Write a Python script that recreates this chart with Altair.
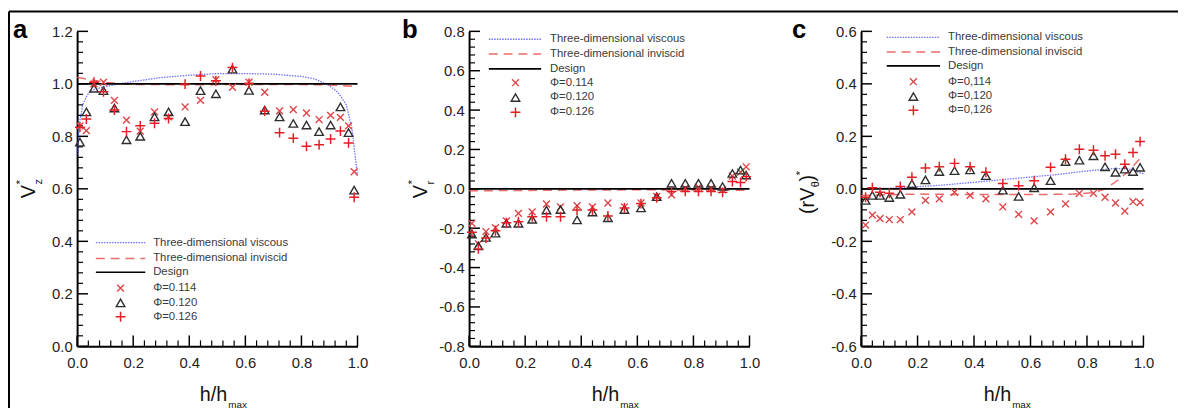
import altair as alt
import pandas as pd

# ---------------- data ----------------
H = [0.01, 0.033, 0.06, 0.094, 0.133, 0.176, 0.225, 0.276, 0.326, 0.385, 0.44, 0.495,
     0.554, 0.613, 0.669, 0.722, 0.771, 0.818, 0.863, 0.904, 0.939, 0.968, 0.988]
H_C = [0.016, 0.04, 0.067, 0.1, 0.139, 0.18, 0.228, 0.277, 0.331, 0.386, 0.442, 0.502,
       0.558, 0.613, 0.671, 0.724, 0.773, 0.823, 0.864, 0.901, 0.934, 0.963, 0.988]

# panel a : V*z
A_X = [0.84, 0.822, 1.0, 1.006, 0.937, 0.862, 0.82, 0.893, 0.874, 0.912, 0.937, 1.016,
       0.987, 1.006, 0.968, 0.897, 0.902, 0.889, 0.864, 0.88, 0.872, 0.84, 0.665]
A_TRI = [0.778, 0.893, 0.983, 0.974, 0.908, 0.787, 0.8, 0.874, 0.893, 0.856, 0.974, 0.962,
         1.056, 0.975, 0.9, 0.874, 0.849, 0.843, 0.818, 0.843, 0.912, 0.814, 0.595]
A_PLUS = [0.835, 0.866, 1.006, 0.97, 0.9, 0.818, 0.84, 0.85, 0.868, 0.999, 1.03, 1.012,
          1.062, 1.002, 0.896, 0.814, 0.793, 0.762, 0.768, 0.79, 0.82, 0.775, 0.568]
A_VISC_H = [0.0, 0.005, 0.01, 0.02, 0.035, 0.05, 0.1, 0.2, 0.3, 0.4, 0.5, 0.6, 0.7, 0.8,
            0.85, 0.9, 0.93, 0.96, 0.98, 0.99, 1.0]
A_VISC = [0.73, 0.8, 0.86, 0.92, 0.955, 0.975, 0.99, 1.009, 1.024, 1.033, 1.039, 1.039,
          1.037, 1.028, 1.018, 0.993, 0.968, 0.92, 0.83, 0.74, 0.65]
A_INV_H = [0.0, 0.05, 0.1, 0.15, 0.2, 0.4, 0.6, 0.8, 0.9, 1.0]
A_INV = [1.025, 1.015, 1.006, 1.001, 0.998, 0.996, 0.998, 0.997, 0.996, 0.99]
A_DES = [1.0, 1.0]

# panel b : V*r
B_X = [-0.175, -0.28, -0.217, -0.197, -0.163, -0.125, -0.117, -0.077, -0.092, -0.085, -0.092,
       -0.072, -0.092, -0.072, -0.038, -0.03, 0.003, 0.008, 0.003, -0.005, 0.065, 0.085, 0.112]
B_TRI = [-0.23, -0.29, -0.247, -0.225, -0.175, -0.175, -0.155, -0.108, -0.105, -0.158, -0.118,
         -0.147, -0.105, -0.097, -0.04, 0.028, 0.028, 0.028, 0.028, 0.012, 0.078, 0.095, 0.07]
B_PLUS = [-0.22, -0.305, -0.25, -0.213, -0.172, -0.167, -0.142, -0.142, -0.142, -0.108, -0.108,
          -0.138, -0.097, -0.075, -0.045, -0.013, -0.013, -0.013, -0.013, -0.018, 0.037, 0.032, 0.062]
B_INV_H = [0.0, 0.2, 0.4, 0.6, 0.8, 1.0]
B_INV = [-0.01, -0.008, -0.006, -0.005, -0.006, -0.008]
B_DES = [0.0, 0.0]

# panel c : (rV_theta)*
C_X = [-0.138, -0.1, -0.113, -0.117, -0.117, -0.088, -0.044, -0.038, -0.013, -0.025, -0.038,
       -0.069, -0.097, -0.122, -0.088, -0.057, -0.017, -0.017, -0.032, -0.054, -0.085, -0.049, -0.052]
C_TRI = [-0.044, -0.025, -0.025, -0.033, -0.021, 0.019, 0.034, 0.066, 0.069, 0.072, 0.05,
         -0.005, -0.029, 0.004, 0.031, 0.104, 0.109, 0.126, 0.084, 0.063, 0.075, 0.066, 0.082]
C_PLUS = [-0.032, 0.004, -0.013, -0.017, 0.009, 0.044, 0.079, 0.084, 0.097, 0.084, 0.063,
          0.02, 0.012, 0.031, 0.082, 0.113, 0.151, 0.147, 0.126, 0.132, 0.094, 0.138, 0.18]
C_VISC_H = [0.0, 0.1, 0.2, 0.3, 0.4, 0.5, 0.6, 0.7, 0.8, 0.9, 0.95, 1.0]
C_VISC = [0.0, 0.002, 0.008, 0.015, 0.025, 0.035, 0.045, 0.055, 0.068, 0.078, 0.075, 0.057]
C_INV_H = [0.0, 0.2, 0.4, 0.6, 0.75, 0.82, 0.86, 0.9, 0.95, 1.0]
C_INV = [-0.025, -0.02, -0.022, -0.022, -0.02, -0.015, -0.002, 0.025, 0.07, 0.13]
C_DES = [0.0, 0.0]
DES_H = [0.0, 1.0]

LEG_LINES = ["Three-dimensional viscous", "Three-dimensional inviscid", "Design"]
LEG_A = ["Φ=0.114", "Φ=0.120", "Φ=0.126"]
LEG_C = ["Φ=0,114", "Φ=0,120", "Φ=0,126"]

X_MAJOR = [0.0, 0.2, 0.4, 0.6, 0.8, 1.0]

# ---------------- styling ----------------
FONT = "Liberation Sans"
W, HT = 284, 319
RED = "#e41f25"
XRED = "#e04448"
TRI = "#2e2e2e"
BLUE = "#4040ff"
DRED = "#e85050"
X_SHAPE = "M-1,-1L1,1M-1,1L1,-1"
P_SHAPE = "M-1,0L1,0M0,-1L0,1"
ONE = pd.DataFrame({"k": [0]})


def minor_vals(lo, hi, step, major):
    n = int(round((hi - lo) / step))
    vals = [round(lo + i * step, 4) for i in range(n + 1)]
    return [v for v in vals if all(abs(v - m) > 1e-6 for m in major)]


def make_panel(width, ydom, ymajor, hp, xs, tris, pluses, lines, leg, legtexts,
               letter, letter_x, ytitle, frame=False):
    xaxis = alt.Axis(values=X_MAJOR, format=".1f", ticks=False, grid=False,
                     domainColor="black", domainWidth=2, labelFont=FONT,
                     labelFontSize=15, labelColor="#222", labelPadding=9,
                     labelFlush=False, title=None)
    yaxis = alt.Axis(values=ymajor, format=".1f", ticks=False, grid=False,
                     domainColor="black", domainWidth=2, labelFont=FONT,
                     labelFontSize=15, labelColor="#222", labelPadding=5,
                     labelExpr="replace(datum.label, '\u2212', '-')", title=None)
    xs_ = alt.Scale(domain=[0, 1], nice=False, zero=False)
    ys_ = alt.Scale(domain=ydom, nice=False, zero=False)

    def X(f):
        return alt.X(f, type="quantitative", scale=xs_, axis=xaxis)

    def Y(f):
        return alt.Y(f, type="quantitative", scale=ys_, axis=yaxis)

    layers = []
    # ticks (inward)
    xmin = minor_vals(0, 1, 0.04, X_MAJOR)
    ymin = minor_vals(ydom[0], ydom[1], 0.04, ymajor)
    layers.append(alt.Chart(pd.DataFrame({"t": X_MAJOR})).mark_rule(color="black", strokeWidth=1.5)
                  .encode(x=X("t"), y=alt.value(HT), y2=alt.value(HT - 11)))
    layers.append(alt.Chart(pd.DataFrame({"t": xmin})).mark_rule(color="black", strokeWidth=1.2)
                  .encode(x=X("t"), y=alt.value(HT), y2=alt.value(HT - 6)))
    layers.append(alt.Chart(pd.DataFrame({"t": ymajor})).mark_rule(color="black", strokeWidth=1.5)
                  .encode(y=Y("t"), x=alt.value(0), x2=alt.value(11)))
    layers.append(alt.Chart(pd.DataFrame({"t": ymin})).mark_rule(color="black", strokeWidth=1.2)
                  .encode(y=Y("t"), x=alt.value(0), x2=alt.value(6)))

    # lines
    styles = {
        "visc": dict(color=BLUE, strokeWidth=1.3, strokeDash=[1.5, 1.2], opacity=0.75),
        "inv": dict(color=DRED, strokeWidth=1.5, strokeDash=[9, 6], opacity=0.85),
        "des": dict(color="black", strokeWidth=1.6),
    }
    for lh, lv, st in lines:
        layers.append(alt.Chart(pd.DataFrame({"h": lh, "v": lv})).mark_line(**styles[st])
                      .encode(x=X("h"), y=Y("v")))

    # markers
    df = pd.DataFrame({"h": hp, "x": xs, "tri": tris, "plus": pluses})
    layers.append(alt.Chart(df).mark_point(shape=X_SHAPE, filled=False, size=48, strokeWidth=1.4,
                                           color=XRED, opacity=1).encode(x=X("h"), y=Y("x")))
    layers.append(alt.Chart(df).mark_point(shape="triangle-up", filled=False, size=75, strokeWidth=1.4,
                                           color=TRI, opacity=1).encode(x=X("h"), y=Y("tri")))
    layers.append(alt.Chart(df).mark_point(shape=P_SHAPE, filled=False, size=100, strokeWidth=1.5,
                                           color=RED, opacity=1).encode(x=X("h"), y=Y("plus")))

    # legend
    lx0, lx1, sx, tx, rows = leg
    labels = LEG_LINES + legtexts
    for i, lab in enumerate(labels):
        ry = rows[i]
        if i < 3:
            st = styles[["visc", "inv", "des"][i]]
            layers.append(alt.Chart(ONE).mark_rule(**st).encode(
                x=alt.value(lx0), x2=alt.value(lx1), y=alt.value(ry)))
        else:
            shp, col, sz, sw = [(X_SHAPE, XRED, 48, 1.4), ("triangle-up", TRI, 75, 1.4),
                                (P_SHAPE, RED, 100, 1.5)][i - 3]
            layers.append(alt.Chart(ONE).mark_point(shape=shp, filled=False, size=sz, strokeWidth=sw,
                                                    color=col, opacity=1)
                          .encode(x=alt.value(sx), y=alt.value(ry)))
        layers.append(alt.Chart(ONE).mark_text(text=lab, align="left", baseline="middle",
                                               fontSize=11.5, font=FONT, color="#3a3a3a")
                      .encode(x=alt.value(tx), y=alt.value(ry)))

    # panel letter
    layers.append(alt.Chart(ONE).mark_text(text=letter, align="left", baseline="alphabetic",
                                           fontSize=26, fontWeight="bold", font=FONT, color="black")
                  .encode(x=alt.value(letter_x), y=alt.value(7)))
    # y title pieces (rotated)
    for txt, fs, px, py in ytitle:
        layers.append(alt.Chart(ONE).mark_text(text=txt, angle=270, align="left", baseline="alphabetic",
                                               fontSize=fs, font=FONT, color="#111")
                      .encode(x=alt.value(px), y=alt.value(py)))
    # x title h/h_max
    layers.append(alt.Chart(ONE).mark_text(text="h/h", align="right", baseline="alphabetic",
                                           fontSize=20, font=FONT, color="#111")
                  .encode(x=alt.value(152), y=alt.value(374)))
    layers.append(alt.Chart(ONE).mark_text(text="max", align="left", baseline="alphabetic",
                                           fontSize=10, font=FONT, color="#111")
                  .encode(x=alt.value(153), y=alt.value(381)))
    if frame:
        layers.append(alt.Chart(ONE).mark_rule(color="black", strokeWidth=2).encode(
            x=alt.value(-69), x2=alt.value(1115), y=alt.value(-20)))
        layers.append(alt.Chart(ONE).mark_rule(color="black", strokeWidth=2).encode(
            x=alt.value(-69), y=alt.value(-20), y2=alt.value(392)))
    return alt.layer(*layers).properties(width=width, height=HT)


YA = [0.0, 0.2, 0.4, 0.6, 0.8, 1.0, 1.2]
YB = [-0.8, -0.6, -0.4, -0.2, 0.0, 0.2, 0.4, 0.6, 0.8]
YC = [-0.6, -0.4, -0.2, 0.0, 0.2, 0.4, 0.6]

pa = make_panel(
    W, [0.0, 1.2], YA, H, A_X, A_TRI, A_PLUS,
    [(A_VISC_H, A_VISC, "visc"), (A_INV_H, A_INV, "inv"), (DES_H, A_DES, "des")],
    (19, 69, 44, 77, [214, 230, 244, 260, 275, 289]), LEG_A, "a", -65,
    [("V", 20, -43, 169), ("*", 12, -54, 155), ("z", 11, -36, 155)], frame=True)

pb = make_panel(
    W, [-0.8, 0.8], YB, H, B_X, B_TRI, B_PLUS,
    [(B_INV_H, B_INV, "inv"), (DES_H, B_DES, "des")],
    (20, 73, 47, 82, [8, 23, 38, 52, 67, 82]), LEG_A, "b", -68,
    [("V", 20, -43, 169), ("*", 12, -54, 155), ("r", 11, -36, 155)])

pc = make_panel(
    286, [-0.6, 0.6], YC, H_C, C_X, C_TRI, C_PLUS,
    [(C_VISC_H, C_VISC, "visc"), (C_INV_H, C_INV, "inv"), (DES_H, C_DES, "des")],
    (26, 80, 53, 88, [6, 21, 35, 51, 66, 80]), LEG_C, "c", -70,
    [("(rV", 20, -48, 185), ("θ", 11, -43, 158), (")", 20, -48, 152), ("*", 12, -58, 146)])

chart = (alt.hconcat(pa, pb, pc, spacing=113, bounds="flush")
         .resolve_scale(x="independent", y="independent")
         .properties(padding={"left": 0, "top": 0, "right": 0, "bottom": 0}, background="white")
         .configure_view(stroke=None))

chart.save("out.html", embed_options={"renderer": "svg", "actions": False})
